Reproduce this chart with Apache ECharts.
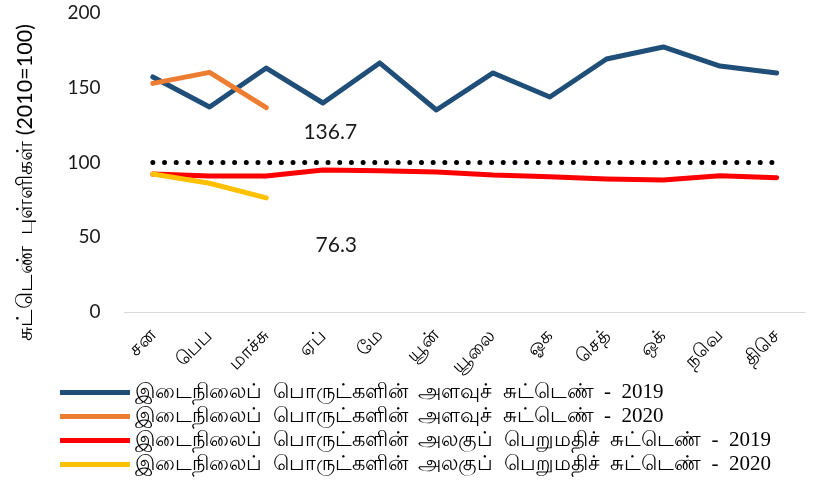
<!DOCTYPE html>
<html>
<head>
<meta charset="utf-8">
<script src="https://cdn.jsdelivr.net/npm/echarts@6/dist/echarts.min.js"></script>
<style>
  html, body { margin: 0; padding: 0; background: #fff; }
  #chart { width: 816px; height: 484px; }
</style>
</head>
<body>
<div id="chart"></div>
<script>
const months = ['சன', 'பெப', 'மாச்சு', 'ஏப்', 'மே', 'யூன்', 'யூலை', 'ஓக', 'செத்', 'ஒக்', 'நவெ', 'திசெ']

const volume2019 = [157.2, 137.1, 163.2, 139.8, 166.6, 135.1, 159.9, 143.8, 169.2, 177.3, 164.5, 159.9]
const volume2020 = [152.9, 160.3, 136.7]
const unitValue2019 = [92.3, 91.0, 91.0, 95.0, 94.5, 93.6, 91.6, 90.5, 89.0, 88.3, 91.2, 89.8]
const unitValue2020 = [92.3, 86.1, 76.3]
const baseLine = [100, 100, 100, 100, 100, 100, 100, 100, 100, 100, 100, 100]

const seriesNames = [
  'இடைநிலைப்  பொருட்களின்  அளவுச்  சுட்டெண்  -  2019',
  'இடைநிலைப்  பொருட்களின்  அளவுச்  சுட்டெண்  -  2020',
  'இடைநிலைப்  பொருட்களின்  அலகுப்  பெறுமதிச்  சுட்டெண்  -  2019',
  'இடைநிலைப்  பொருட்களின்  அலகுப்  பெறுமதிச்  சுட்டெண்  -  2020',
]

const chart = echarts.init(document.getElementById('chart'))

// label only the last point of a 2020 series, pushed off to the right
const withEndLabel = (data, offset) =>
  data.map((v, i) =>
    i === data.length - 1
      ? { value: v, label: { show: true, position: 'inside', offset: offset } }
      : v
  )

const lineSeries = (name, data, color) => ({
  name: name,
  type: 'line',
  data: data,
  symbol: 'circle',
  symbolSize: 0.1,
  showSymbol: true,
  itemStyle: { color: color },
  lineStyle: { width: 5, color: color, cap: 'round', join: 'round' },
  label: {
    show: false,
    fontFamily: 'Lato',
    fontSize: 21,
    color: '#1a1a1a',
  },
  emphasis: { disabled: true },
  z: 3,
})

const option = {
  animation: false,
  grid: { left: 124.5, right: 11, top: 13, bottom: 172 },
  legend: {
    data: seriesNames,
    orient: 'vertical',
    left: 55,
    top: 377,
    height: 200,
    icon: 'rect',
    itemWidth: 70,
    itemHeight: 5,
    itemGap: 3,
    textStyle: {
      fontFamily: 'Liberation Serif',
      fontSize: 21,
      lineHeight: 18,
      color: '#000',
    },
  },
  xAxis: {
    type: 'category',
    data: months,
    boundaryGap: true,
    axisLine: { lineStyle: { color: '#d9d9d9', width: 1 } },
    axisTick: { show: false },
    axisLabel: {
      rotate: 45,
      margin: 21,
      interval: 0,
      fontSize: 19,
      color: '#000',
    },
  },
  yAxis: {
    type: 'value',
    min: 0,
    max: 200,
    interval: 50,
    name: 'சுட்டெண்  புள்ளிகள் (2010=100)',
    nameLocation: 'middle',
    nameGap: 88,
    nameTextStyle: { fontFamily: 'Lato', fontSize: 21.5, color: '#000', padding: [0, 40, 0, 0] },
    axisLine: { show: false },
    axisTick: { show: false },
    splitLine: { show: false },
    axisLabel: {
      margin: 24,
      fontFamily: 'Lato',
      fontSize: 19,
      color: '#1a1a1a',
    },
  },
  series: [
    {
      name: 'base',
      type: 'line',
      data: baseLine,
      symbol: 'none',
      lineStyle: { width: 5, color: '#000', type: [0.01, 11.67], cap: 'round' },
      emphasis: { disabled: true },
      z: 1,
    },
    lineSeries(seriesNames[0], volume2019, '#1f4e79'),
    lineSeries(seriesNames[1], withEndLabel(volume2020, [64, 25]), '#ed7d31'),
    lineSeries(seriesNames[2], unitValue2019, '#ff0000'),
    lineSeries(seriesNames[3], withEndLabel(unitValue2020, [70, 47]), '#ffc000'),
  ],
}

chart.setOption(option)
</script>
</body>
</html>
